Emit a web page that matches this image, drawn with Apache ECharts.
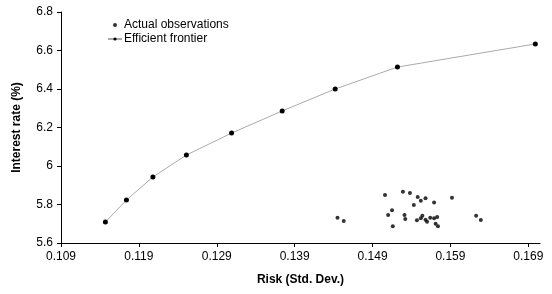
<!DOCTYPE html>
<html>
<head>
<meta charset="utf-8">
<script src="https://cdn.jsdelivr.net/npm/echarts@6/dist/echarts.min.js"></script>
<style>
  html, body { margin: 0; padding: 0; background: #fff; }
  #main { width: 552px; height: 294px; }
</style>
</head>
<body>
<div id="main"></div>
<script>
// efficient frontier points [risk, rate]
const frontierRisk = [0.1147, 0.1174, 0.1208, 0.1251, 0.1309, 0.1374, 0.1442, 0.1522, 0.1699];
const frontierRate = [5.709, 5.823, 5.943, 6.057, 6.171, 6.286, 6.400, 6.514, 6.634];

// actual observations
const obsRisk = [0.1445, 0.1453, 0.1506, 0.1529, 0.1538, 0.1548, 0.1552, 0.1558, 0.1543, 0.1569,
  0.1592, 0.1515, 0.1510, 0.1531, 0.1532, 0.1516, 0.1547, 0.1552, 0.1554, 0.1558,
  0.1560, 0.1564, 0.1569, 0.1573, 0.1571, 0.1574, 0.1623, 0.1629];
const obsRate = [5.731, 5.714, 5.849, 5.866, 5.860, 5.839, 5.820, 5.832, 5.797, 5.811,
  5.835, 5.770, 5.745, 5.745, 5.725, 5.687, 5.718, 5.728, 5.742, 5.721,
  5.711, 5.731, 5.728, 5.735, 5.700, 5.687, 5.742, 5.719];

const xTicks = [0.109, 0.119, 0.129, 0.139, 0.149, 0.159, 0.169];
const yTicks = [5.6, 5.8, 6.0, 6.2, 6.4, 6.6, 6.8];

const chart = echarts.init(document.getElementById("main"));
const font = "Liberation Sans, Arial, sans-serif";

const option = {
  animation: false,
  textStyle: { fontFamily: font },
  grid: { left: 61, right: 12, top: 12, bottom: 51 },
  legend: {
    orient: "vertical",
    left: 102,
    top: 14,
    itemGap: 2,
    itemWidth: 14,
    itemHeight: 4,
    textStyle: { fontFamily: font, fontSize: 12, color: "#000", padding: [0, 0, 0, -3] },
    data: [
      { name: "Actual observations", icon: "circle", itemStyle: { color: "#000" } },
      { name: "Efficient frontier" }
    ]
  },
  xAxis: {
    type: "value",
    min: 0.109,
    max: 0.1705,
    name: "Risk (Std. Dev.)",
    nameLocation: "middle",
    nameGap: 31,
    nameTextStyle: { fontFamily: font, fontSize: 12, fontWeight: "bold", color: "#000" },
    axisLine: { lineStyle: { color: "#000", width: 1 } },
    axisTick: { customValues: xTicks, length: 4, lineStyle: { color: "#000" } },
    axisLabel: {
      customValues: xTicks,
      fontSize: 12, color: "#000", margin: 8,
      formatter: v => v.toFixed(3)
    },
    splitLine: { show: false }
  },
  yAxis: {
    type: "value",
    min: 5.6,
    max: 6.8,
    interval: 0.2,
    name: "Interest rate (%)",
    nameLocation: "middle",
    nameGap: 38,
    nameTextStyle: { fontFamily: font, fontSize: 12, fontWeight: "bold", color: "#000" },
    axisLine: { show: true, lineStyle: { color: "#000", width: 1 } },
    axisTick: { show: true, length: 4, lineStyle: { color: "#000" } },
    axisLabel: {
      fontSize: 12, color: "#000", margin: 8,
      formatter: v => String(Math.round(v * 10) / 10)
    },
    splitLine: { show: false }
  },
  series: [
    {
      name: "Actual observations",
      type: "scatter",
      symbol: "circle",
      symbolSize: 4,
      itemStyle: { color: "#000" },
      data: obsRisk.map((r, i) => [r, obsRate[i]])
    },
    {
      name: "Efficient frontier",
      type: "line",
      symbol: "circle",
      symbolSize: 5,
      showAllSymbol: true,
      itemStyle: { color: "#000" },
      lineStyle: { color: "#aaa", width: 1 },
      data: frontierRisk.map((r, i) => [r, frontierRate[i]])
    }
  ]
};

chart.setOption(option);
</script>
</body>
</html>
